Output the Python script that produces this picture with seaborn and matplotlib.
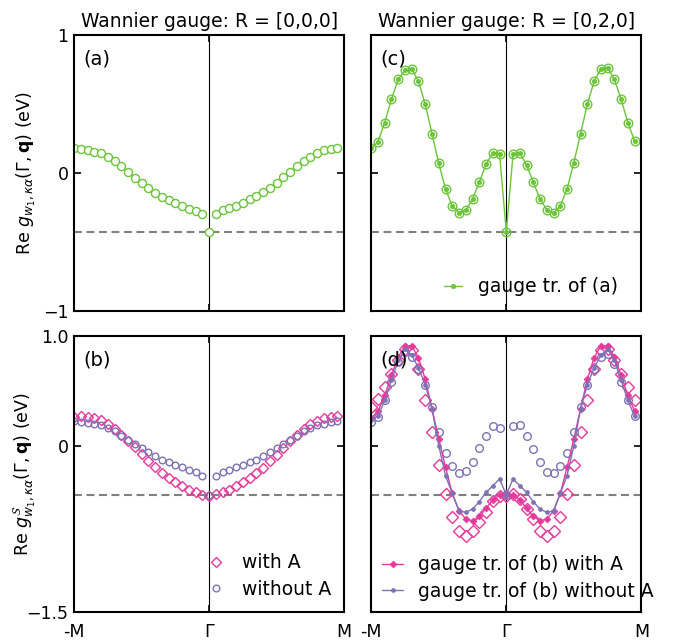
import numpy as np
import pandas as pd
import matplotlib
matplotlib.use("Agg")
import matplotlib.pyplot as plt
import seaborn as sns

# k-path -M ... Gamma ... M (M itself not sampled)
q = np.linspace(-1.0, 0.95, 40)
xtick_pos = [-1.0, 0.0, 1.0]
xtick_labels = ["-M", "Γ", "M"]

# (a) Wannier gauge R=[0,0,0]
g_a = [0.178, 0.173, 0.166, 0.154, 0.142, 0.118, 0.087, 0.051, 0.010, -0.033,
       -0.074, -0.110, -0.142, -0.171, -0.195, -0.219, -0.238, -0.258, -0.274, -0.298,
       -0.424,
       -0.296, -0.270, -0.253, -0.236, -0.214, -0.190, -0.164, -0.140, -0.106, -0.070,
       -0.031, 0.010, 0.051, 0.087, 0.118, 0.144, 0.164, 0.176, 0.178]

# (c) Wannier gauge R=[0,2,0] (direct and gauge transformed coincide)
g_c = [0.178, 0.226, 0.366, 0.534, 0.679, 0.744, 0.756, 0.664, 0.498, 0.286,
       0.070, -0.116, -0.238, -0.286, -0.267, -0.190, -0.067, 0.063, 0.147, 0.137,
       -0.424,
       0.135, 0.147, 0.058, -0.067, -0.188, -0.267, -0.291, -0.238, -0.116, 0.075,
       0.286, 0.498, 0.664, 0.756, 0.763, 0.679, 0.534, 0.366, 0.231]

# (b) symmetrized, with / without A
gs_b_withA = [0.265, 0.274, 0.265, 0.256, 0.235, 0.205, 0.159, 0.105, 0.053, -0.008,
              -0.068, -0.129, -0.189, -0.241, -0.286, -0.326, -0.362, -0.392, -0.417, -0.438,
              -0.447,
              -0.435, -0.415, -0.395, -0.362, -0.326, -0.286, -0.241, -0.192, -0.135, -0.075,
              -0.012, 0.048, 0.102, 0.155, 0.200, 0.233, 0.255, 0.265, 0.274]
gs_b_noA = [0.226, 0.220, 0.214, 0.205, 0.189, 0.165, 0.135, 0.098, 0.062, 0.023,
            -0.014, -0.053, -0.089, -0.120, -0.144, -0.168, -0.189, -0.211, -0.235, -0.271,
            -0.438,
            -0.265, -0.229, -0.211, -0.189, -0.168, -0.144, -0.120, -0.089, -0.053, -0.014,
            0.023, 0.062, 0.098, 0.135, 0.165, 0.189, 0.205, 0.220, 0.226]

# (d) R=[0,2,0]: direct (open markers) and gauge tr. of (b) (lines)
gs_d_withA = [0.356, 0.432, 0.538, 0.659, 0.780, 0.880, 0.870, 0.700, 0.417, 0.129,
              -0.168, -0.432, -0.644, -0.765, -0.811, -0.765, -0.683, -0.598, -0.492, -0.447,
              -0.447,
              -0.432, -0.477, -0.568, -0.659, -0.765, -0.811, -0.765, -0.644, -0.432, -0.168,
              0.129, 0.417, 0.700, 0.870, 0.880, 0.780, 0.659, 0.538, 0.417]
gs_d_noA = [0.220, 0.265, 0.417, 0.583, 0.765, 0.856, 0.811, 0.705, 0.553, 0.356,
            0.129, -0.059, -0.180, -0.241, -0.220, -0.144, -0.017, 0.098, 0.183, 0.165,
            -0.438,
            0.183, 0.189, 0.098, -0.023, -0.144, -0.229, -0.241, -0.180, -0.059, 0.129,
            0.356, 0.553, 0.705, 0.811, 0.832, 0.750, 0.583, 0.417, 0.274]
gt_d_withA = [0.256, 0.317, 0.462, 0.644, 0.811, 0.911, 0.911, 0.802, 0.608, 0.341,
              0.068, -0.189, -0.426, -0.583, -0.659, -0.674, -0.635, -0.562, -0.483, -0.441,
              -0.438,
              -0.441, -0.483, -0.562, -0.635, -0.674, -0.659, -0.583, -0.426, -0.189, 0.068,
              0.341, 0.608, 0.802, 0.911, 0.911, 0.811, 0.644, 0.462, 0.317]
gt_d_noA = [0.235, 0.274, 0.417, 0.599, 0.780, 0.880, 0.826, 0.711, 0.559, 0.341,
            0.007, -0.265, -0.426, -0.583, -0.598, -0.568, -0.501, -0.417, -0.356, -0.295,
            -0.438,
            -0.295, -0.356, -0.417, -0.501, -0.568, -0.598, -0.583, -0.426, -0.265, 0.007,
            0.341, 0.559, 0.711, 0.826, 0.880, 0.780, 0.599, 0.417, 0.274]

gamma_a = -0.424
gamma_b = -0.44

GREEN = "#6cc43a"
PINK = "#e6399b"
PURPLE = "#7b73b5"

sns.set_style("ticks")
plt.rcParams["font.family"] = ["DejaVu Sans"]
plt.rcParams["font.size"] = 13
plt.rcParams["mathtext.fontset"] = "dejavusans"
for key in ["text.color", "axes.labelcolor", "xtick.color", "ytick.color", "axes.edgecolor"]:
    plt.rcParams[key] = "black"

df = pd.DataFrame({"q": q, "a": g_a, "c": g_c, "b_A": gs_b_withA, "b_noA": gs_b_noA,
                   "d_A": gs_d_withA, "d_noA": gs_d_noA,
                   "t_A": gt_d_withA, "t_noA": gt_d_noA})

fig, axes = plt.subplots(2, 2, figsize=(6.73, 6.42), dpi=100)
fig.subplots_adjust(left=0.110, right=0.953, top=0.9455, bottom=0.0467,
                    wspace=0.1, hspace=0.09)
ax_a, ax_c = axes[0]
ax_b, ax_d = axes[1]

common = dict(estimator=None, sort=False, legend=False)

# (a)
sns.lineplot(data=df, x="q", y="a", ax=ax_a, linestyle="none", marker="o",
             markersize=5.8, mfc="white", mec=GREEN, mew=1.0, **common)

# (c)
sns.lineplot(data=df, x="q", y="c", ax=ax_c, linestyle="none", marker="o",
             markersize=6.2, mfc="none", mec=GREEN, mew=1.0, **common)
sns.lineplot(data=df, x="q", y="c", ax=ax_c, color=GREEN, lw=1.0, marker="o",
             markersize=3.2, mfc=GREEN, mec=GREEN, mew=0.5,
             label="gauge tr. of (a)", estimator=None, sort=False)

# (b)
sns.lineplot(data=df, x="q", y="b_A", ax=ax_b, linestyle="none", marker="D",
             markersize=5.5, mfc="none", mec=PINK, mew=1.0, label="with A",
             estimator=None, sort=False)
sns.lineplot(data=df, x="q", y="b_noA", ax=ax_b, linestyle="none", marker="o",
             markersize=4.8, mfc="none", mec=PURPLE, mew=1.0, label="without A",
             estimator=None, sort=False)

# (d)
sns.lineplot(data=df, x="q", y="d_A", ax=ax_d, linestyle="none", marker="D",
             markersize=6.3, mfc="none", mec=PINK, mew=1.0, **common)
sns.lineplot(data=df, x="q", y="d_noA", ax=ax_d, linestyle="none", marker="o",
             markersize=5.5, mfc="none", mec=PURPLE, mew=1.0, **common)
sns.lineplot(data=df, x="q", y="t_A", ax=ax_d, color=PINK, lw=1.0, marker="D",
             markersize=3.5, mfc=PINK, mec=PINK, mew=0.5,
             label="gauge tr. of (b) with A", estimator=None, sort=False)
sns.lineplot(data=df, x="q", y="t_noA", ax=ax_d, color=PURPLE, lw=1.0, marker="o",
             markersize=2.8, mfc=PURPLE, mec=PURPLE, mew=0.5,
             label="gauge tr. of (b) without A", estimator=None, sort=False)

for ax, lab, gval in [(ax_a, "(a)", gamma_a), (ax_c, "(c)", gamma_a),
                      (ax_b, "(b)", gamma_b), (ax_d, "(d)", gamma_b)]:
    ax.axvline(0.0, color="black", lw=0.8, zorder=0)
    ax.axhline(gval, color="gray", lw=1.5, ls=(0, (3.8, 2.2)), zorder=0)
    ax.set_xlim(-1, 1)
    ax.set_xticks(xtick_pos)
    ax.set_xlabel("")
    ax.set_ylabel("")
    ax.tick_params(direction="in", length=5, width=1.2, top=True, right=True,
                   labelsize=12.5, color="black", labelcolor="black")
    ax.tick_params(axis="x", pad=8)
    ax.tick_params(axis="y", pad=4)
    for sp in ax.spines.values():
        sp.set_linewidth(1.5)
        sp.set_color("black")
    ax.text(0.033, 0.948, lab, transform=ax.transAxes, ha="left", va="top", fontsize=14)

for ax in (ax_a, ax_c):
    ax.set_ylim(-1, 1)
    ax.set_yticks([-1, 0, 1])
    ax.set_xticklabels([])
for ax in (ax_b, ax_d):
    ax.set_ylim(-1.5, 1.0)
    ax.set_yticks([-1.5, 0, 1.0])
    ax.set_xticklabels(xtick_labels)
ax_a.set_yticklabels(["\u22121", "0", "1"])
ax_b.set_yticklabels(["\u22121.5", "0", "1.0"])
ax_c.set_yticklabels([])
ax_d.set_yticklabels([])

ax_a.set_ylabel(r"Re $g_{w_1,\kappa\alpha}(\Gamma,\mathbf{q})$ (eV)", fontsize=12.5)
ax_b.set_ylabel(r"Re $g^{\mathcal{S}}_{w_1,\kappa\alpha}(\Gamma,\mathbf{q})$ (eV)",
                fontsize=12.5)
ax_a.yaxis.set_label_coords(-0.135, 0.5)
ax_b.yaxis.set_label_coords(-0.135, 0.5)

ax_a.set_title("Wannier gauge: R = [0,0,0]", fontsize=13.5, pad=6)
ax_c.set_title("Wannier gauge: R = [0,2,0]", fontsize=13.5, pad=6)

ax_c.legend(loc="lower right", bbox_to_anchor=(0.97, 0.0), frameon=False, fontsize=13.5,
            handlelength=1.0, handletextpad=0.85, borderaxespad=0.4)
ax_b.legend(loc="lower right", frameon=False, fontsize=13.5, handlelength=1.0,
            handletextpad=0.9, borderaxespad=0.3, labelspacing=0.4)
ax_d.legend(loc="lower left", bbox_to_anchor=(0.0, 0.0), frameon=False, fontsize=13.5,
            handlelength=1.1, handletextpad=0.8, borderaxespad=0.2, labelspacing=0.4)

fig.savefig("out.png", dpi=100)
